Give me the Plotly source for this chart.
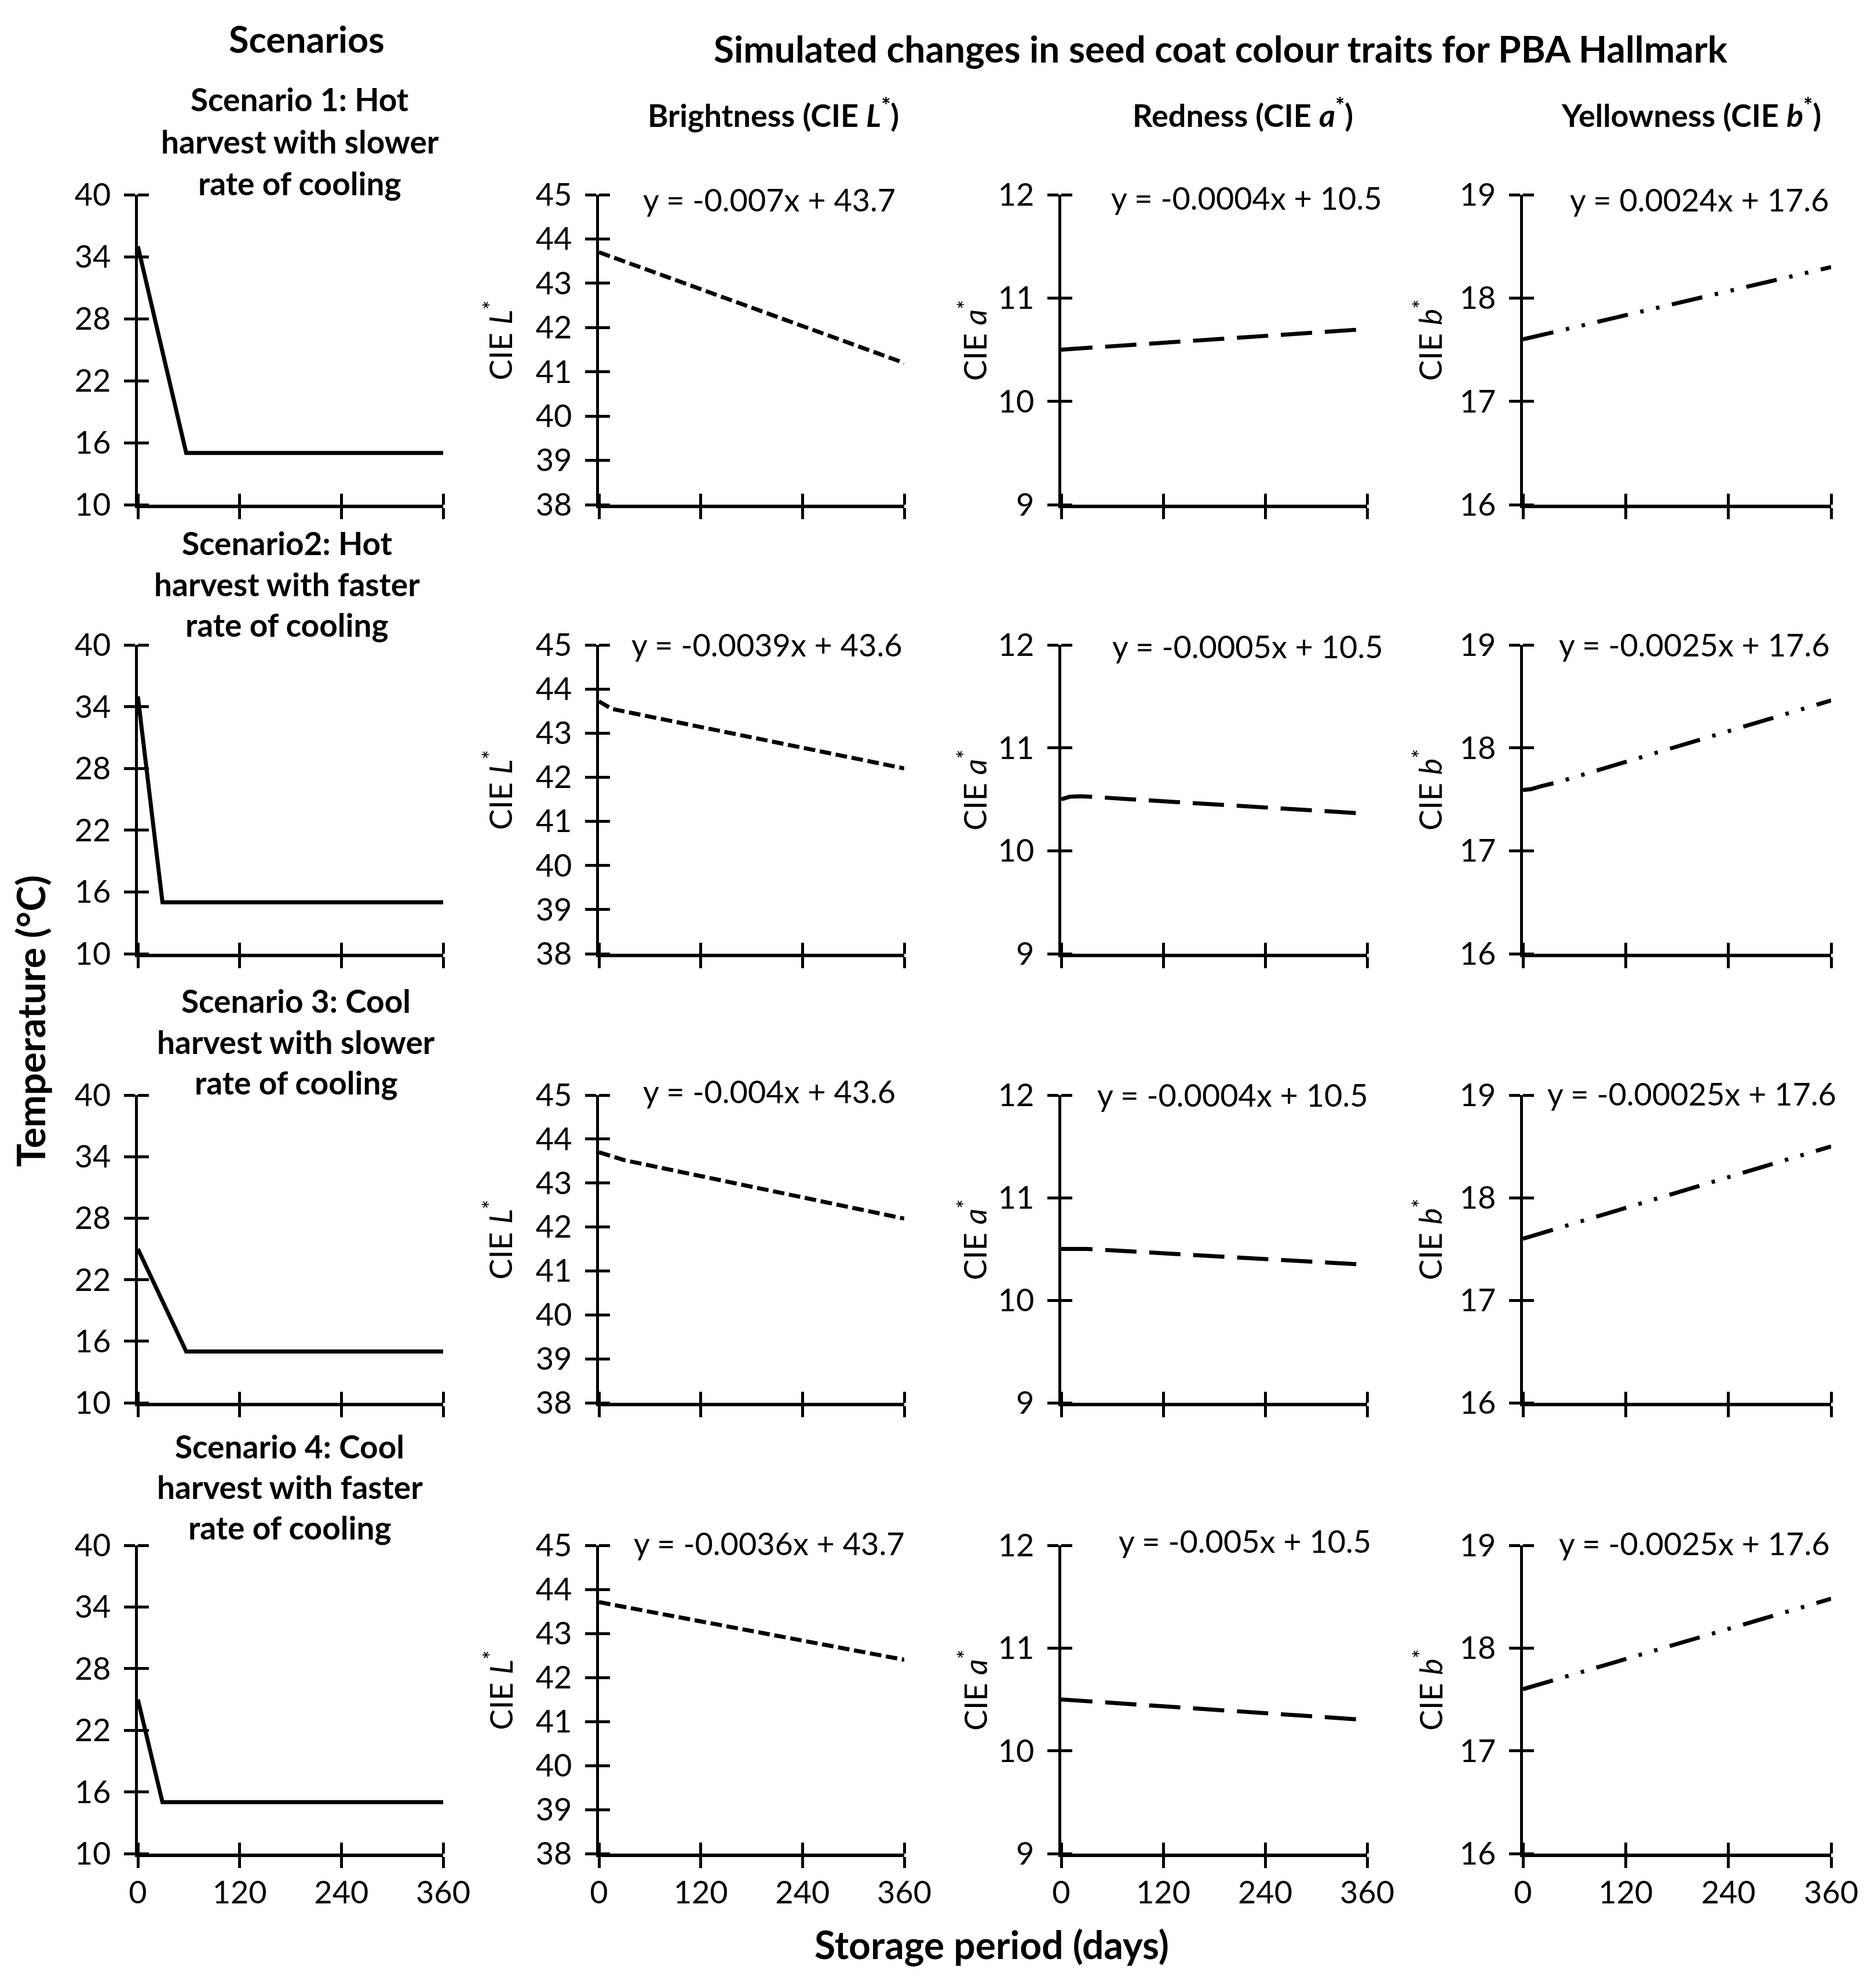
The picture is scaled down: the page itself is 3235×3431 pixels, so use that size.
import plotly.graph_objects as go

# ---------------- data ----------------
days_ticks = [0, 120, 240, 360]

temp_ticks = [10, 16, 22, 28, 34, 40]
L_ticks = [38, 39, 40, 41, 42, 43, 44, 45]
a_ticks = [9, 10, 11, 12]
b_ticks = [16, 17, 18, 19]

scenario_lines = [
    ["Scenario 1: Hot", "harvest with slower", "rate of cooling"],
    ["Scenario2: Hot", "harvest with faster", "rate of cooling"],
    ["Scenario 3: Cool", "harvest with slower", "rate of cooling"],
    ["Scenario 4: Cool", "harvest with faster", "rate of cooling"],
]

temp_days = [[0, 57, 360], [0, 29, 360], [0, 57, 360], [0, 29, 360]]
temp_vals = [[35, 15, 15], [35, 15, 15], [25, 15, 15], [25, 15, 15]]

L_days = [[0, 360], [0, 15, 360], [0, 15, 30, 360], [0, 360]]
L_vals = [[43.7, 41.2], [43.72, 43.55, 42.2], [43.7, 43.6, 43.52, 42.19], [43.71, 42.4]]

a_days = [[0, 360], [0, 10, 24, 360], [0, 30, 360], [0, 360]]
a_vals = [[10.5, 10.7], [10.5, 10.525, 10.53, 10.36], [10.5, 10.5, 10.345], [10.5, 10.3]]

b_days = [[0, 360], [0, 10, 20, 40, 360], [0, 360], [0, 360]]
b_vals = [[17.6, 18.3], [17.59, 17.6, 17.625, 17.665, 18.46], [17.6, 18.5], [17.6, 18.48]]

equations_L = ["y = -0.007x + 43.7", "y = -0.0039x + 43.6", "y = -0.004x + 43.6", "y = -0.0036x + 43.7"]
equations_a = ["y = -0.0004x + 10.5", "y = -0.0005x + 10.5", "y = -0.0004x + 10.5", "y = -0.005x + 10.5"]
equations_b = ["y = 0.0024x + 17.6", "y = -0.0025x + 17.6", "y = -0.00025x + 17.6", "y = -0.0025x + 17.6"]

traits = ["Brightness", "Redness", "Yellowness"]
symbols = ["L", "a", "b"]

# ---------------- styling ----------------
W, H = 3235, 3431
OFF = 8  # page body margin compensation
FONT = "Lato, Carlito, Calibri, sans-serif"
FS = 54
FT = 63


def px(x):
    return (x - OFF) / W


def py(y):
    return 1 - (y - OFF) / H


def cie(sym, size):
    return ('CIE <span style="font-style:italic;font-size:%dpx">%s</span>'
            '<sup><span style="font-size:%dpx">*</span></sup>' % (size, sym, round(size * 0.7)))


col_dom = [(238, 765), (1034, 1561), (1832, 2360), (2629, 3161)]
row_dom = [(336, 871), (1113, 1646), (1890, 2421), (2667, 3199)]

fig = go.Figure()
layout = dict(
    template="none",
    width=W, height=H, margin=dict(l=0, r=0, t=0, b=0, pad=0, autoexpand=False),
    paper_bgcolor="white", plot_bgcolor="white", showlegend=False,
    font=dict(family=FONT, size=FS, color="black"),
)

series = [
    (temp_days, temp_vals, temp_ticks, "solid", 7),
    (L_days, L_vals, L_ticks, "20px,8px", 7),
    (a_days, a_vals, a_ticks, "54px,22px", 7),
    (b_days, b_vals, b_ticks, "54px,22px,6px,22px,6px,22px", 7),
]


def shifted(vals):
    lo, hi = min(vals), max(vals)
    eps = (hi - lo) * 1e-6
    return [v + eps if v < (lo + hi) / 2 else v - eps for v in vals]


annotations = []
for r in range(4):
    for c in range(4):
        k = r * 4 + c + 1
        xs, ys, yt, dash, lw = series[c]
        sfx = "" if k == 1 else str(k)
        fig.add_trace(go.Scatter(
            x=xs[r], y=ys[r], mode="lines", xaxis="x" + sfx, yaxis="y" + sfx,
            line=dict(color="black", width=lw, dash=dash), hoverinfo="skip"))
        x0, x1 = col_dom[c]
        y0, y1 = row_dom[r]
        layout["xaxis" + sfx] = dict(
            domain=[px(x0), px(x1)], anchor="y" + sfx, range=[0, 360], automargin=False,
            tickmode="array", tickvals=days_ticks, ticktext=[str(v) for v in days_ticks],
            showticklabels=(r == 3),
            ticks="outside", ticklen=19, tickwidth=4.5, tickcolor="black",
            showline=True, linecolor="black", linewidth=5.5, showgrid=False, zeroline=False,
            tickfont=dict(family=FONT, size=FS), ticklabelstandoff=-4,
            minor=dict(tickmode="array", tickvals=shifted(days_ticks), ticks="inside",
                       ticklen=19, tickwidth=4.5, tickcolor="black", showgrid=False),
        )
        layout["yaxis" + sfx] = dict(
            domain=[py(y1), py(y0)], anchor="x" + sfx, range=[min(yt), max(yt)],
            automargin=False,
            tickmode="array", tickvals=yt, ticktext=[str(v) for v in yt],
            ticks="outside", ticklen=19, tickwidth=4.5, tickcolor="black",
            showline=True, linecolor="black", linewidth=4.5, showgrid=False, zeroline=False,
            tickfont=dict(family=FONT, size=FS), ticklabelstandoff=12,
            minor=dict(tickmode="array", tickvals=shifted(yt), ticks="inside",
                       ticklen=19, tickwidth=4.5, tickcolor="black", showgrid=False),
        )

# equations
eq_pos = [
    [(0.558, 0.984), (0.605, 0.99), (0.572, 0.984)],
    [(0.55, 1.0), (0.609, 0.995), (0.555, 1.0)],
    [(0.558, 1.013), (0.56, 1.0), (0.548, 1.004)],
    [(0.556, 1.007), (0.601, 1.015), (0.555, 1.007)],
]
eqs = [equations_L, equations_a, equations_b]
for r in range(4):
    for j in range(3):
        k = r * 4 + j + 2
        ex, ey = eq_pos[r][j]
        annotations.append(dict(
            text=eqs[j][r], xref="x%d domain" % k, yref="y%d domain" % k,
            x=ex, y=ey, xanchor="center", yanchor="middle", showarrow=False,
            font=dict(family=FONT, size=FS)))

# y axis titles for colour panels
yt_x = [860, 1679, 2465]
for r in range(4):
    for j in range(3):
        k = r * 4 + j + 2
        annotations.append(dict(
            text=cie(symbols[j], FS), xref="paper", yref="y%d domain" % k,
            x=px(yt_x[j]), y=0.53, xanchor="center", yanchor="middle",
            textangle=-90, showarrow=False, font=dict(family=FONT, size=FS)))

# scenario subtitles
sc_x = [518, 496, 511, 500]
sc_y = [[171, 243.6, 316], [937, 1007.5, 1077.7], [1727, 1798, 1868], [2496, 2566, 2636]]
for r in range(4):
    for i, line in enumerate(scenario_lines[r]):
        annotations.append(dict(
            text="<b>%s</b>" % line, xref="paper", yref="paper",
            x=px(sc_x[r]), y=py(sc_y[r][i]), xanchor="center", yanchor="middle",
            showarrow=False, font=dict(family=FONT, size=FS + 1)))

# headers
hdr_x = [1335, 2145, 2919]
for j in range(3):
    annotations.append(dict(
        text="<b>%s (%s)</b>" % (traits[j], cie(symbols[j], FS)), xref="paper", yref="paper",
        x=px(hdr_x[j]), y=py(195), xanchor="center", yanchor="middle",
        showarrow=False, font=dict(family=FONT, size=FS)))

annotations.append(dict(text="<b>Scenarios</b>", xref="paper", yref="paper",
                        x=px(529), y=py(66), xanchor="center", yanchor="middle",
                        showarrow=False, font=dict(family=FONT, size=FT)))
annotations.append(dict(text="<b>Simulated changes in seed coat colour traits for PBA Hallmark</b>",
                        xref="paper", yref="paper", x=px(2107), y=py(83),
                        xanchor="center", yanchor="middle", showarrow=False,
                        font=dict(family=FONT, size=FT + 1)))
annotations.append(dict(text="<b>Temperature (°C)</b>", xref="paper", yref="paper",
                        x=px(52), y=py(1762), xanchor="center", yanchor="middle",
                        textangle=-90, showarrow=False, font=dict(family=FONT, size=67)))
annotations.append(dict(text="<b>Storage period (days)</b>", xref="paper", yref="paper",
                        x=px(1712), y=py(3355), xanchor="center", yanchor="middle",
                        showarrow=False, font=dict(family=FONT, size=66)))

layout["annotations"] = annotations
fig.update_layout(**layout)
fig.write_html("out.html")
